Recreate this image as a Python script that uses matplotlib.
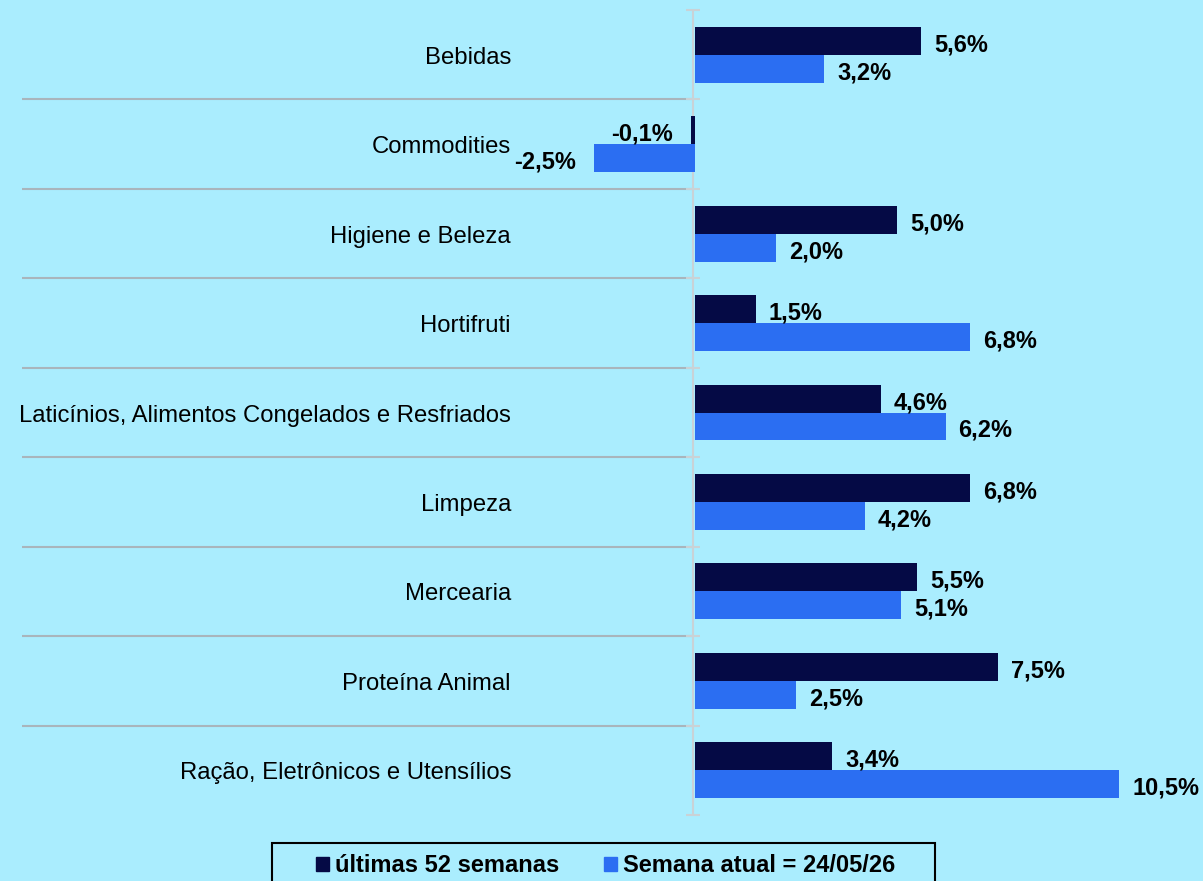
import matplotlib
matplotlib.use("Agg")
import matplotlib.pyplot as plt
from matplotlib.patches import Patch, Rectangle
import numpy as np

categories = ["Bebidas", "Commodities", "Higiene e Beleza", "Hortifruti",
              "Laticínios, Alimentos Congelados e Resfriados", "Limpeza",
              "Mercearia", "Proteína Animal", "Ração, Eletrônicos e Utensílios"]
ultimas_52 = [5.6, -0.1, 5.0, 1.5, 4.6, 6.8, 5.5, 7.5, 3.4]
semana_atual = [3.2, -2.5, 2.0, 6.8, 6.2, 4.2, 5.1, 2.5, 10.5]
series_names = ["últimas 52 semanas", "Semana atual = 24/05/26"]

BG = "#AAEDFE"
DARK = "#050A45"
BLUE = "#2B6EF2"

plt.rcParams['font.family'] = ['Liberation Sans', 'DejaVu Sans']

fig = plt.figure(figsize=(12.03, 8.81), dpi=100, facecolor=BG)
W, H = 1203, 881
ax = fig.add_axes([0, (H - 815) / H, 1, 805 / H])
ax.set_facecolor(BG)
ppu = 40.4
x0 = 693
ax.set_xlim(-x0 / ppu, (W - x0) / ppu)
n = len(categories)
ax.set_ylim(n - 0.5, -0.5)
ax.axis('off')

y = np.arange(n)
h = 0.313
ax.barh(y - h / 2, ultimas_52, height=h, left=0.05, color=DARK, zorder=3)
ax.barh(y + h / 2, semana_atual, height=h, left=0.05, color=BLUE, zorder=3)

def lab(v, yy):
    txt = f"{v:.1f}%".replace('.', ',')
    off = 15 if v >= 0 else -16
    ax.annotate(txt, xy=(v, yy), xytext=(off, -4), textcoords='offset pixels',
                ha='left' if v >= 0 else 'right', va='center',
                fontsize=17, fontweight='bold', color='black', zorder=4)

for i in range(n):
    lab(ultimas_52[i], y[i] - h / 2)
    lab(semana_atual[i], y[i] + h / 2)
    ax.annotate(categories[i], xy=(0, y[i]), xytext=(-182, -3),
                textcoords='offset pixels', ha='right', va='center',
                fontsize=17.2, color='black')

# separators
bounds = np.arange(n + 1) - 0.5
ax.hlines(bounds[1:-1], -(x0 - 22) / ppu, 0, color="#A9B5BC", lw=1.5, zorder=2)
# zero axis
ax.vlines(0, -0.5, n - 0.5, color="#C9D2D6", lw=1.5, zorder=2)
ax.plot(np.zeros(n + 1), bounds, marker='_', markersize=10, mew=1.5,
        color="#C9D2D6", ls='none', zorder=2, clip_on=False)

handles = [Patch(facecolor=DARK, edgecolor=DARK), Patch(facecolor=BLUE, edgecolor=BLUE)]
leg = fig.legend(handles, series_names, loc='center',
                 bbox_to_anchor=(606 / W, 1 - 866 / H), ncol=2,
                 frameon=False, prop={'size': 17, 'weight': 'bold'},
                 handlelength=0.55, handleheight=0.55, handletextpad=0.25,
                 columnspacing=1.9, borderpad=0, borderaxespad=0)
fig.patches.append(Rectangle((272 / W, -10 / H), (935 - 272) / W, (881 - 843 + 10) / H,
                             transform=fig.transFigure, facecolor='none',
                             edgecolor='black', lw=1.5))

fig.savefig("out.png", dpi=100, facecolor=BG)
